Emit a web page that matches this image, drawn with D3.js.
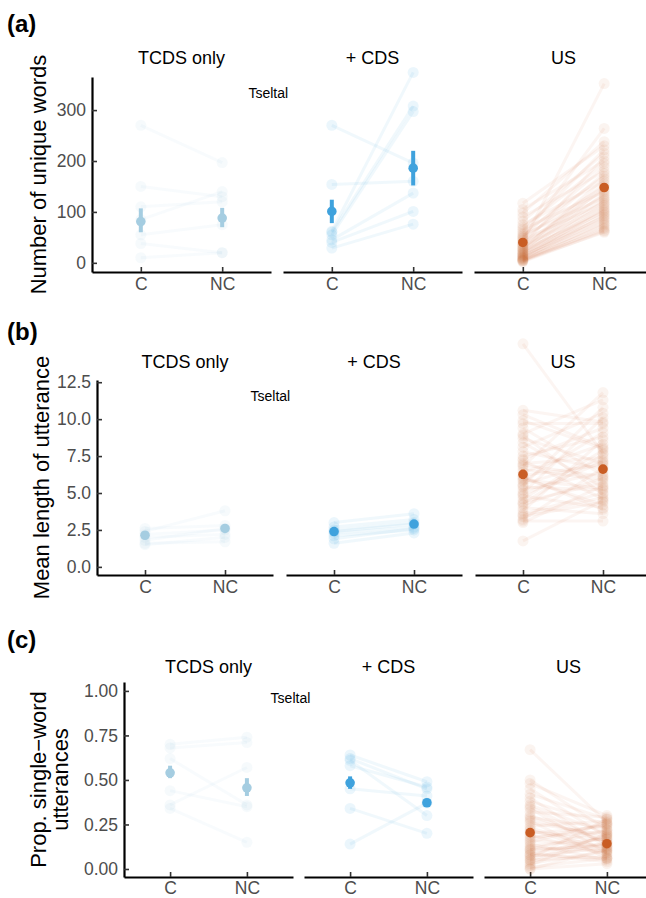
<!DOCTYPE html>
<html>
<head>
<meta charset="utf-8">
<script src="https://cdn.jsdelivr.net/npm/d3@7"></script>
<style>
  body { margin: 0; background: #fff; }
  text { font-family: "Liberation Sans", Arial, Helvetica, sans-serif; }
</style>
</head>
<body>
<div id="chart"></div>
<script>
// categories
var conditions = ["C", "NC"];
var facetNames = ["TCDS only", "+ CDS", "US"];
var facetColors = ["#a5cde1", "#3fa2dd", "#c95d24"];

// (a) number of unique words, one value per child for C and NC
var tcdsWordsC = [270, 150, 110, 85, 55, 38, 10];
var tcdsWordsNC = [197, 130, 120, 140, 75, 20, 20];
var cdsWordsC = [270, 154, 62, 60, 55, 45, 40, 29];
var cdsWordsNC = [196, 160, 374, 308, 297, 137, 101, 76];
var usWordsC = [117, 105, 98, 90, 82, 75, 70, 66, 62, 58, 55, 52, 50, 48, 45, 43, 40, 38, 36, 34, 32, 30, 28, 27, 25,
    24, 22, 20, 19, 18, 16, 15, 14, 12, 11, 10, 9, 8, 7, 6, 5, 5, 4, 3, 2];
var usWordsNC = [230, 200, 238, 180, 215, 160, 195, 140, 222, 170, 128, 188, 150, 264, 118, 175, 352, 143, 132, 208, 112, 155, 125, 165, 99,
    147, 105, 136, 90, 122, 115, 84, 102, 96, 77, 108, 87, 70, 93, 64, 80, 60, 74, 67, 62];
// group means and 95% CI, [C, NC] per facet
var wordsMean = [[81, 88], [101, 186], [40, 148]];
var wordsLow = [[60, 70], [78, 152], [35, 140]];
var wordsHigh = [[107, 108], [124, 220], [45, 156]];

// (b) mean length of utterance
var tcdsMluC = [2.6, 2.4, 2.2, 2.0, 1.8, 1.6, 1.5];
var tcdsMluNC = [2.8, 3.8, 2.5, 2.2, 2.6, 1.7, 2.0];
var cdsMluC = [3.0, 2.7, 2.5, 2.4, 2.3, 2.1, 1.9, 1.6];
var cdsMluNC = [3.6, 3.2, 3.0, 2.9, 2.7, 2.5, 2.6, 2.3];
var usMluC = [15.1, 10.6, 10.3, 9.7, 9.4, 9.0, 8.7, 8.4, 8.1, 7.8, 7.5, 7.2, 7.0, 6.8, 6.6, 6.4, 6.2, 6.0, 5.8, 5.6, 5.4, 5.2, 5.0,
    4.8, 4.6, 4.4, 4.2, 4.0, 3.8, 3.6, 3.4, 3.2, 3.1, 3.0, 9.9, 8.9, 7.3, 6.1, 5.5, 4.3, 3.5, 1.76, 6.9, 5.9, 4.9];
var usMluNC = [7.7, 9.8, 8.1, 9.7, 6.2, 11.3, 7.0, 5.4, 10.4, 6.6, 8.8, 4.6, 7.4, 11.8, 5.9, 8.3, 6.9, 4.2, 9.1, 7.2, 5.2, 6.4, 10.1,
    4.0, 7.9, 5.7, 6.0, 3.6, 8.6, 5.0, 4.4, 6.7, 3.1, 5.5, 8.0, 4.9, 9.4, 3.9, 10.8, 7.6, 4.7, 4.5, 6.1, 5.3, 7.1];
var mluMean = [[2.14, 2.6], [2.39, 2.9], [6.26, 6.62]];
var mluLow = [[2.0, 2.45], [2.25, 2.75], [5.95, 6.35]];
var mluHigh = [[2.28, 2.75], [2.53, 3.05], [6.57, 6.89]];

// (c) proportion of single-word utterances
var tcdsPropC = [0.70, 0.68, 0.62, 0.44, 0.36, 0.34];
var tcdsPropNC = [0.74, 0.71, 0.36, 0.35, 0.57, 0.15];
var cdsPropC = [0.64, 0.61, 0.58, 0.45, 0.34, 0.14, 0.62];
var cdsPropNC = [0.49, 0.30, 0.46, 0.41, 0.20, 0.37, 0.45];
var usPropC = [0.67, 0.50, 0.48, 0.45, 0.42, 0.40, 0.38, 0.36, 0.34, 0.32, 0.30, 0.29, 0.27, 0.26, 0.24, 0.23, 0.21, 0.20, 0.19, 0.18,
    0.16, 0.15, 0.14, 0.13, 0.12, 0.11, 0.10, 0.09, 0.08, 0.07, 0.06, 0.05, 0.04, 0.03, 0.02, 0.01, 0.00, 0.00, 0.35, 0.28, 0.22, 0.17, 0.11, 0.08, 0.05];
var usPropNC = [0.26, 0.22, 0.30, 0.18, 0.28, 0.12, 0.25, 0.20, 0.09, 0.29, 0.15, 0.23, 0.06, 0.19, 0.27, 0.11, 0.16, 0.24, 0.08, 0.21,
    0.13, 0.26, 0.05, 0.17, 0.10, 0.22, 0.14, 0.04, 0.18, 0.12, 0.28, 0.07, 0.15, 0.10, 0.20, 0.06, 0.11, 0.03, 0.14, 0.17, 0.09, 0.25, 0.13, 0.06, 0.19];
var propMean = [[0.54, 0.456], [0.484, 0.372], [0.204, 0.142]];
var propLow = [[0.51, 0.41], [0.45, 0.35], [0.18, 0.125]];
var propHigh = [[0.58, 0.51], [0.52, 0.39], [0.23, 0.16]];

// tick labels
var wordsTicks = [0, 100, 200, 300];
var mluTicks = [0, 2.5, 5, 7.5, 10, 12.5];
var propTicks = [0, 0.25, 0.5, 0.75, 1];

var svg = d3.select("#chart").append("svg")
    .attr("width", 646)
    .attr("height", 898)
    .style("background-color", "#fff");

/*
    One row of the figure: three facets sharing the y axis
*/
function drawPanel(p) {
    var y = d3.scaleLinear().domain(p.domain).range([p.bottom, p.top]);
    var g = svg.append("g");

    // panel letter
    g.append("text")
        .attr("x", 7).attr("y", p.labelY)
        .attr("font-size", 24).attr("font-weight", "bold")
        .text(p.label);

    // y axis title (one or two lines)
    p.yTitle.forEach(function(line, i) {
        g.append("text")
            .attr("transform", "translate(" + p.yTitleX[i] + "," + (p.top + p.bottom) / 2 + ") rotate(-90)")
            .attr("text-anchor", "middle")
            .attr("font-size", 22)
            .text(line);
    });

    // y axis on the first facet only
    var yAxis = g.append("g")
        .attr("transform", "translate(" + p.left + ",0)")
        .call(d3.axisLeft(y).tickValues(p.ticks).tickFormat(p.fmt)
            .tickSizeInner(-5).tickSizeOuter(0).tickPadding(6));
    styleAxis(yAxis);

    for (var f = 0; f < facetNames.length; f++) {
        var x0 = p.left + f * (p.width + p.gap);
        var x = d3.scalePoint().domain(conditions).range([x0, x0 + p.width]).padding(0.6);
        var col = facetColors[f];
        var cVals = p.cVals[f], ncVals = p.ncVals[f];

        // facet title
        g.append("text")
            .attr("x", x0 + p.width / 2).attr("y", p.facetTitleY)
            .attr("text-anchor", "middle").attr("font-size", 18)
            .text(facetNames[f]);

        var xAxis = g.append("g")
            .attr("transform", "translate(0," + p.bottom + ")")
            .call(d3.axisBottom(x).tickSizeInner(-5).tickSizeOuter(0).tickPadding(p.xPad));
        styleAxis(xAxis);

        // one line per child
        var pairs = cVals.map(function(v, i) { return [v, ncVals[i]]; });
        g.append("g").selectAll("line")
            .data(pairs)
            .enter().append("line")
            .attr("x1", x("C")).attr("x2", x("NC"))
            .attr("y1", function(d) { return y(d[0]); })
            .attr("y2", function(d) { return y(d[1]); })
            .attr("stroke", col).attr("stroke-width", 3)
            .attr("stroke-opacity", f == 2 ? 0.06 : 0.08);

        conditions.forEach(function(cond, ci) {
            var vals = ci == 0 ? cVals : ncVals;
            g.append("g").selectAll("circle")
                .data(vals)
                .enter().append("circle")
                .attr("cx", x(cond))
                .attr("cy", function(d) { return y(d); })
                .attr("r", 5.5)
                .attr("fill", col)
                .attr("fill-opacity", f == 2 ? 0.07 : 0.1);
        });

        // group mean with CI
        conditions.forEach(function(cond, ci) {
            g.append("line")
                .attr("x1", x(cond)).attr("x2", x(cond))
                .attr("y1", y(p.low[f][ci])).attr("y2", y(p.high[f][ci]))
                .attr("stroke", col).attr("stroke-width", 4);
            g.append("circle")
                .attr("cx", x(cond)).attr("cy", y(p.mean[f][ci]))
                .attr("r", 4.8).attr("fill", col);
        });

        // language note in first facet
        if (f == 0) {
            g.append("text")
                .attr("x", x0 + p.width * 0.985).attr("y", p.top + 21)
                .attr("text-anchor", "middle").attr("font-size", 14)
                .text("Tseltal");
        }
    }
}

function styleAxis(a) {
    a.select(".domain").attr("stroke", "#000").attr("stroke-width", 2.2);
    a.selectAll(".tick line").attr("stroke", "#333").attr("stroke-width", 1.6);
    a.selectAll(".tick text").attr("fill", "#4d4d4d").attr("font-size", 17.5)
        .style("font-family", "'Liberation Sans', Arial, sans-serif");
}

drawPanel({
    label: "(a)", labelY: 32, top: 77, bottom: 272, left: 92, width: 179, gap: 12,
    domain: [-18, 365], ticks: wordsTicks, fmt: d3.format("d"),
    yTitle: ["Number of unique words"], yTitleX: [46], facetTitleY: 64, xPad: 6,
    cVals: [tcdsWordsC, cdsWordsC, usWordsC], ncVals: [tcdsWordsNC, cdsWordsNC, usWordsNC],
    mean: wordsMean, low: wordsLow, high: wordsHigh
});

drawPanel({
    label: "(b)", labelY: 340, top: 380, bottom: 575, left: 97, width: 176, gap: 13,
    domain: [-0.55, 12.65], ticks: mluTicks, fmt: d3.format(".1f"),
    yTitle: ["Mean length of utterance"], yTitleX: [49], facetTitleY: 368, xPad: 6,
    cVals: [tcdsMluC, cdsMluC, usMluC], ncVals: [tcdsMluNC, cdsMluNC, usMluNC],
    mean: mluMean, low: mluLow, high: mluHigh
});

drawPanel({
    label: "(c)", labelY: 648, top: 682, bottom: 877, left: 124, width: 169, gap: 11,
    domain: [-0.045, 1.05], ticks: propTicks, fmt: d3.format(".2f"),
    yTitle: ["Prop. single\u2212word", "utterances"], yTitleX: [46, 68], facetTitleY: 673, xPad: 5,
    cVals: [tcdsPropC, cdsPropC, usPropC], ncVals: [tcdsPropNC, cdsPropNC, usPropNC],
    mean: propMean, low: propLow, high: propHigh
});
</script>
</body>
</html>
